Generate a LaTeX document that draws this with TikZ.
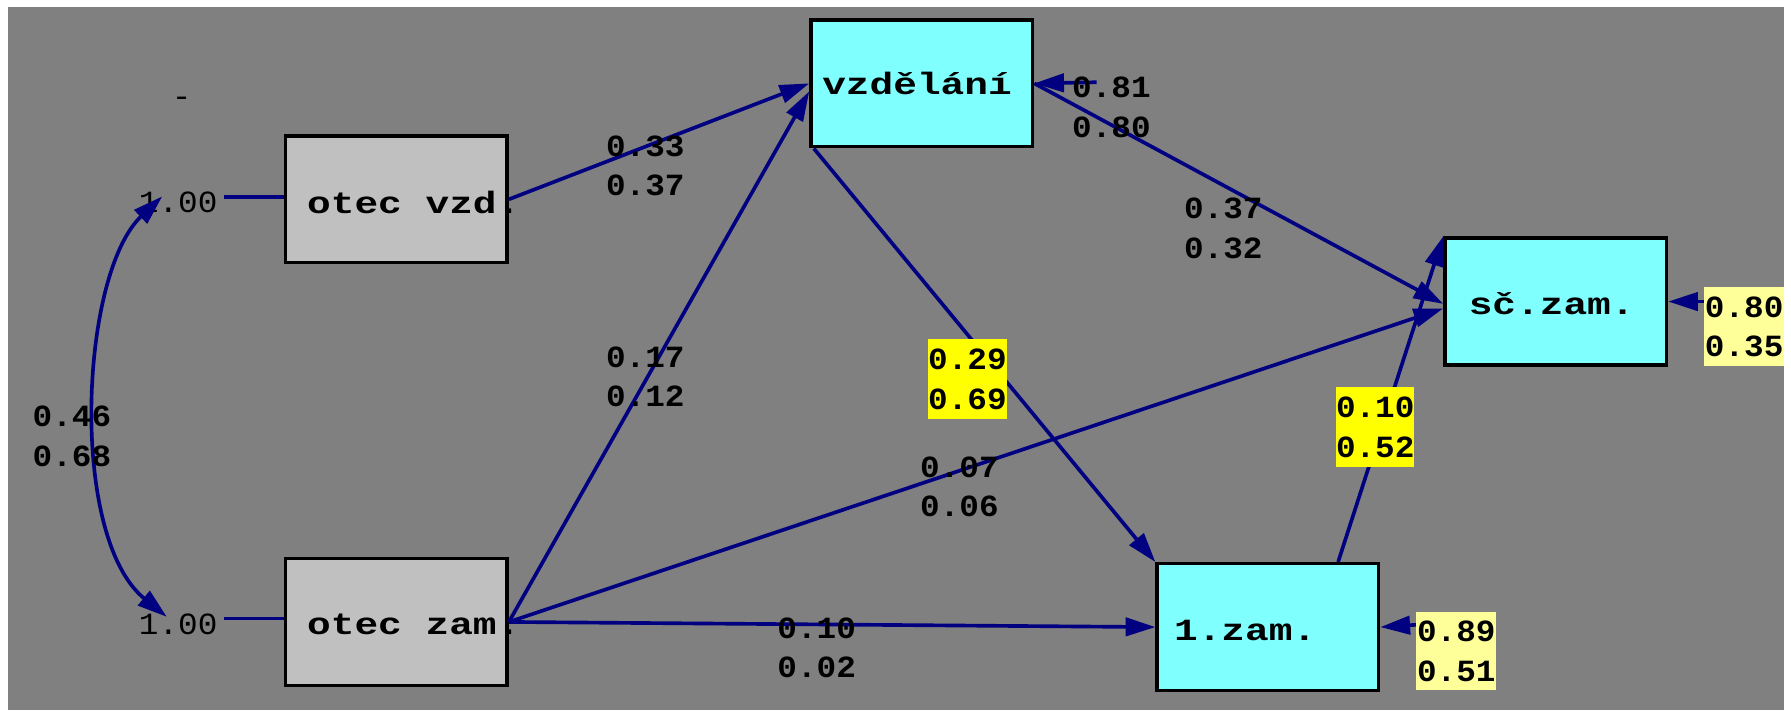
\documentclass[tikz,border=0pt]{standalone}
\usepackage{fontspec}
\usetikzlibrary{arrows.meta,calc}
\newfontfamily\boxfont[FakeStretch=1.28]{Liberation Mono}
\newfontfamily\numfont[FakeStretch=1.06]{Liberation Mono}
\definecolor{bg}{HTML}{808080}
\definecolor{exo}{HTML}{C0C0C0}
\definecolor{endo}{HTML}{80FFFF}
\definecolor{pathc}{HTML}{000080}
\definecolor{hiy}{HTML}{FFFF00}
\definecolor{loy}{HTML}{FFFF99}
\begin{document}
\begin{tikzpicture}[x=0.5pt,y=-0.5pt,
  varbox/.style={draw=black, line width=1.5pt, minimum width=97pt, minimum height=55.5pt, inner sep=0pt},
  exobox/.style={varbox, fill=exo},
  endobox/.style={varbox, fill=endo},
  boxtext/.style={anchor=base west, inner sep=0pt, font=\boxfont\bfseries\fontsize{13.5pt}{16pt}\selectfont},
  coef/.style={inner sep=0pt, align=center, font=\numfont\bfseries\fontsize{13.5pt}{17.3pt}\selectfont},
  hicoef/.style={coef, fill=hiy, minimum width=34pt, minimum height=35pt},
  errcoef/.style={coef, fill=loy, minimum width=35pt, minimum height=34.5pt},
  fixlab/.style={inner sep=0pt, font=\numfont\fontsize{13.5pt}{16pt}\selectfont, text=black},
  plain/.style={draw=pathc, line width=1.6pt},
  conn/.style={plain, -{Triangle[length=13pt,width=8pt]}},
  both/.style={plain, {Triangle[length=13pt,width=8pt]}-{Triangle[length=13pt,width=8pt]}}
]
\fill[white] (0,0) rectangle (1568,622);
\fill[bg] (7,6) rectangle (1562,622);
\useasboundingbox (0,0) rectangle (1568,622);

% boxes
\node[exobox] (A) at (347,174.5) {};
\node[exobox] (B) at (347,544.5) {};
\node[endobox] (V) at (807,73) {};
\node[endobox] (S) at (1362,264) {};
\node[endobox] (Z) at (1110,549) {};

% fixed variances and correlation
\node[fixlab] (n1) at (156,177) {1.00};
\node[fixlab] (n2) at (156,547) {1.00};
\node[fixlab] (dash) at (159,89) {-};
\draw[plain] ($(A.west)+(-52,-2)$) -- ($(A.west)+(0,-2)$);
\draw[plain] ($(B.west)+(-52,-3)$) -- ($(B.west)+(0,-3)$);
\coordinate (c1) at (142,172);
\coordinate (c2) at (146,540);
\draw[both] (c1) .. controls (70,240) and (60,470) .. (c2);

% paths
\draw[conn] (A.east) -- (V.west);
\draw[conn] (B.east) -- ($(V.west)+(0,7)$);
\draw[conn] (B.east) -- (Z.west);
\draw[conn] (B.east) -- ($(S.west)+(0,6)$);
\draw[conn] (V.east) -- ($(S.west)+(0,2)$);
\draw[conn] ($(V.south west)+(4,0)$) -- (Z.north west);
\draw[conn] ($(Z.north west)+(160,0)$) -- (S.north west);

% errors
\coordinate (eV) at (960,72);
\draw[conn] (eV) -- (V.east);
\node[errcoef] (kS) at (1527,286) {0.80\\0.35};
\draw[conn] ($(kS.west)+(0,-22)$) -- (S.east);
\node[errcoef] (kZ) at (1275,570) {0.89\\0.51};
\draw[conn] ($(kZ.west)+(0,-23)$) -- (Z.east);

% box texts
\node[boxtext] (tA) at ($(A.north west)+(20,69)$) {otec vzd.};
\node[boxtext] (tB) at ($(B.north west)+(20,68)$) {otec zam.};
\node[boxtext] (tV) at ($(V.north west)+(11,67)$) {vzdělání};
\node[boxtext] (tS) at ($(S.north west)+(22,68)$) {sč.zam.};
\node[boxtext] (tZ) at ($(Z.north west)+(16,69)$) {1.zam.};

% coefficients
\node[coef] (k1) at (565,145) {0.33\\0.37};
\node[coef] (k2) at (1071,200) {0.37\\0.32};
\node[coef] (k3) at (565,330) {0.17\\0.12};
\node[hicoef] (k4) at (847,332) {0.29\\0.69};
\node[coef] (k5) at (63,382) {0.46\\0.68};
\node[coef] (k6) at (840,426) {0.07\\0.06};
\node[hicoef] (k7) at (1204,374) {0.10\\0.52};
\node[coef] (k8) at (715,567) {0.10\\0.02};
\node[coef] (kV) at (973,94) {0.81\\0.80};
\end{tikzpicture}
\end{document}
